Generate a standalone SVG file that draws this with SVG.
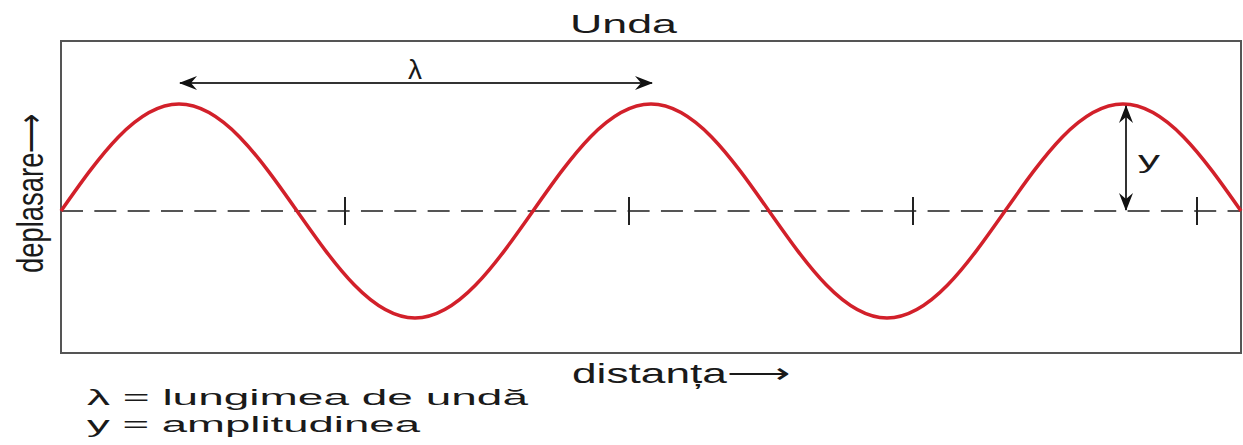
<svg xmlns="http://www.w3.org/2000/svg" width="1243" height="445" viewBox="0 0 1243 445">
<style>
.t{font-family:"Liberation Sans",Arial,sans-serif;fill:#1a1a1a}
.ax{stroke:#555;stroke-width:2;fill:none}
.arr{stroke:#333;stroke-width:2;fill:none}
.tick{stroke:#222;stroke-width:2}
</style>
<defs>
<marker id="ah" viewBox="0 0 18 14" refX="17" refY="7" markerWidth="18" markerHeight="14" markerUnits="userSpaceOnUse" orient="auto-start-reverse">
<path d="M0,0 L18,7 L0,14 L6,7 Z" fill="#111"/>
</marker>
</defs>
<rect width="1243" height="445" fill="#fff"/>
<g id="frame">
<rect x="61" y="41" width="1180" height="312" class="ax"/>
</g>
<g id="axis">
<line x1="61" y1="211" x2="1241" y2="211" stroke="#555" stroke-width="2" stroke-dasharray="22 11.33"/>
<line x1="345" y1="197" x2="345" y2="225" class="tick"/>
<line x1="629" y1="197" x2="629" y2="225" class="tick"/>
<line x1="913" y1="197" x2="913" y2="225" class="tick"/>
<line x1="1197" y1="197" x2="1197" y2="225" class="tick"/>
</g>
<g id="wave">
<path d="M61,211 c38.5,-54.8 75.3,-107 118,-107 c42.7,0 79.5,52.2 118,107 c38.5,54.8 75.3,107 118,107 c42.7,0 79.5,-52.2 118,-107 c38.5,-54.8 75.3,-107 118,-107 c42.7,0 79.5,52.2 118,107 c38.5,54.8 75.3,107 118,107 c42.7,0 79.5,-52.2 118,-107 c38.5,-54.8 75.3,-107 118,-107 c42.7,0 79.5,52.2 118,107" fill="none" stroke="#d2202a" stroke-width="3.5"/>
</g>
<g id="connectors">
<line x1="180" y1="83" x2="652" y2="83" class="arr" marker-start="url(#ah)" marker-end="url(#ah)"/>
<line x1="1126" y1="106" x2="1126" y2="210" class="arr" marker-start="url(#ah)" marker-end="url(#ah)"/>
</g>
<g id="labels">
<text class="t" x="570" y="33" font-size="26" textLength="107" lengthAdjust="spacingAndGlyphs">Unda</text>
<text class="t" x="415" y="79" font-size="28" text-anchor="middle">λ</text>
<text class="t" x="1138" y="168" font-size="24" textLength="22" lengthAdjust="spacingAndGlyphs">y</text>
<text class="t" transform="translate(43,273) rotate(-90)" font-size="36" textLength="160" lengthAdjust="spacingAndGlyphs">deplasare⟶</text>
<text class="t" x="572" y="383" font-size="28" textLength="218" lengthAdjust="spacingAndGlyphs">distanța⟶</text>
<text class="t" x="87" y="405" font-size="22" textLength="441" lengthAdjust="spacingAndGlyphs">λ = lungimea de undă</text>
<text class="t" x="87" y="432" font-size="22" textLength="333" lengthAdjust="spacingAndGlyphs">y = amplitudinea</text>
</g>
</svg>
